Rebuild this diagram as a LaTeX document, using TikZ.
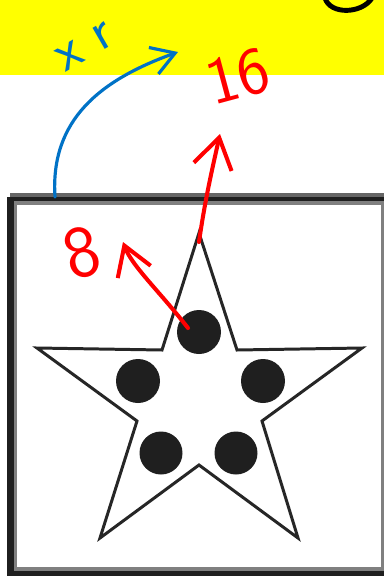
\documentclass[tikz,border=0pt]{standalone}
\usepackage{fontspec}
\usepackage{xcolor}
\usepackage{tikz}
\usetikzlibrary{calc, arrows.meta}
\definecolor{penblue}{RGB}{0,114,198}
\definecolor{penred}{RGB}{255,0,0}
\definecolor{bandyellow}{RGB}{255,255,0}

\begin{document}
\begin{tikzpicture}[x=0.02cm, y=-0.02cm,
    redpen/.style={penred, line width=2.3pt, line cap=round, line join=round},
    bluepen/.style={penblue, line width=1.8pt, line cap=round, line join=round},
    starline/.style={black!85, line width=1.7pt, line join=miter},
    dot/.style={fill=black!88}]
    \useasboundingbox (0,0) rectangle (384,576);
    \clip (0,0) rectangle (384,576);

    % 1. Dải vàng phía trên
    \fill[bandyellow] (0,0) rectangle (384,75);
    \draw[black, line width=2.8pt, line cap=round]
        (325,-2) .. controls (330,15) and (362,14) .. (372,-2);

    % 2. Khung hình vuông
    \fill[black!60] (10,193) rectangle (384,197);
    \fill[black!88] (7,197) rectangle (384,576);
    \fill[black!50] (14,201) rectangle (384,571);
    \fill[white] (17,205) rectangle (381,567);

    % 3. Ngôi sao năm cánh
    \draw[starline] (199,233) -- (237,350) -- (362,348) -- (262,421)
        -- (298,538) -- (199,465) -- (100,538) -- (137,421)
        -- (37,348) -- (162,350) -- cycle;

    % 4. Năm chấm tròn
    \fill[dot] (199,332) circle (22);
    \fill[dot] (138,381) circle (22);
    \fill[dot] (263,381) circle (22);
    \fill[dot] (161,453) circle (21.5);
    \fill[dot] (236,453) circle (21.5);

    % 5. Mũi tên màu đỏ
    \coordinate (startip) at (199,242);
    \coordinate (upend) at (220,134);
    \coordinate (topdot) at (188,328);
    \coordinate (leftend) at (123,242);
    \draw[redpen, -{Straight Barb[length=17pt, width=22pt, line width=2.3pt]}]
        (startip) .. controls (205,200) and (212,170) .. (upend);
    \draw[redpen, -{Straight Barb[length=16pt, width=20pt, line width=2.3pt]}]
        (topdot) .. controls (160,292) and (132,266) .. (leftend);
    \node[penred, rotate=15] (sixteen) at (238,76)
        {\sffamily\fontsize{38}{38}\selectfont 16};
    \node[penred, rotate=15] (eight) at (82,253)
        {\sffamily\fontsize{42}{42}\selectfont 8};

    % 6. Mũi tên màu xanh
    \coordinate (frametop) at (55,197);
    \coordinate (blueend) at (178,52);
    \draw[bluepen, -{Straight Barb[length=13pt, width=16pt, line width=1.8pt]}]
        (frametop) .. controls (50,120) and (100,80) .. (blueend);
    \node[penblue, rotate=30] (xr) at (85,47)
        {\sffamily\fontsize{32}{32}\selectfont x r};

\end{tikzpicture}
\end{document}
